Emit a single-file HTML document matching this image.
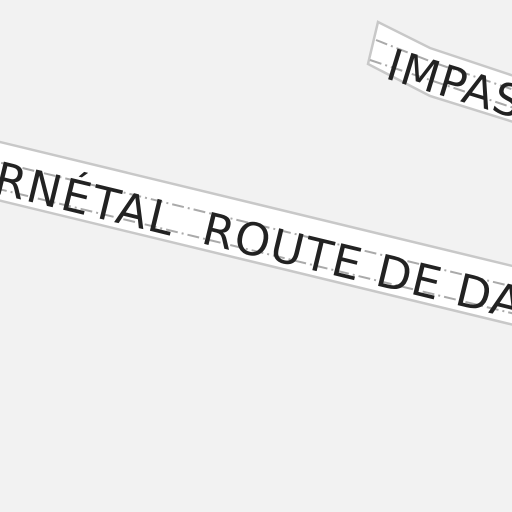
<!DOCTYPE html>
<html><head><style>
html,body{margin:0;padding:0;background:#f2f2f2;}
svg{display:block}
text{font-family:"DejaVu Sans","Liberation Sans",sans-serif;fill:#222;}
</style></head><body>
<svg width="512" height="512" viewBox="0 0 512 512">
<rect width="512" height="512" fill="#f2f2f2"/>
<!-- main road -->
<g transform="translate(0,142) rotate(13.6)">
  <rect x="-60" y="0" width="700" height="57" fill="#fff" stroke="#c8c8c8" stroke-width="2.5"/>
  <line x1="-60" y1="20" x2="640" y2="20" stroke="#aaa" stroke-width="2" stroke-dasharray="12,4,2,4"/>
  <line x1="-60" y1="46" x2="640" y2="46" stroke="#aaa" stroke-width="2" stroke-dasharray="12,4,2,4"/>
  <text x="4" y="51" font-size="45" letter-spacing="2">RNÉTAL</text>
  <text x="218" y="51" font-size="45" letter-spacing="1.5">ROUTE DE DAR</text>
</g>
<!-- impasse road -->
<path d="M378,22 L430,48 L520,78 L520,124 L430,96 L368,64 Z" fill="#fff" stroke="#c8c8c8" stroke-width="2.5"/>
<path d="M376,40 L432,62 L520,92" fill="none" stroke="#aaa" stroke-width="2" stroke-dasharray="12,4,2,4"/>
<path d="M370,60 L430,80 L520,110" fill="none" stroke="#aaa" stroke-width="2" stroke-dasharray="12,4,2,4"/>
<g transform="translate(384,78) rotate(17)">
  <text x="0" y="0" font-size="44" letter-spacing="1.5">IMPASSE</text>
</g>
</svg>
</body></html>
